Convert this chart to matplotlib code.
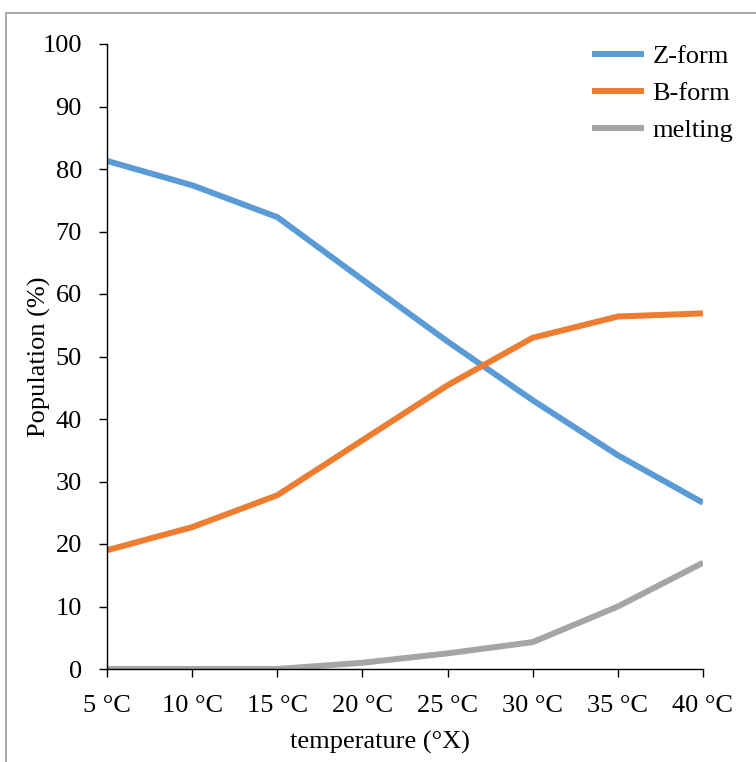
import matplotlib
matplotlib.use("Agg")
import matplotlib.pyplot as plt
from matplotlib.patches import Rectangle

plt.rcParams['font.family'] = ['Liberation Serif', 'DejaVu Serif']

temps = ["5 °C", "10 °C", "15 °C", "20 °C", "25 °C", "30 °C", "35 °C", "40 °C"]
z_form = [81.3, 77.4, 72.3, 62.3, 52.4, 43.0, 34.2, 26.6]
b_form = [19.0, 22.7, 27.8, 36.6, 45.4, 53.0, 56.4, 56.9]
melting = [0.0, 0.0, 0.0, 1.0, 2.5, 4.3, 10.0, 17.0]

W, H = 756, 762
FS = 19
fig = plt.figure(figsize=(W / 100, H / 100), dpi=100)
ax = fig.add_axes([107 / W, 1 - 669 / H, (703 - 107) / W, (669 - 44) / H])

x = list(range(len(temps)))
ax.plot(x, z_form, color="#5B9BD5", lw=4.3, label="Z-form", solid_capstyle="butt")
ax.plot(x, b_form, color="#ED7D31", lw=4.3, label="B-form", solid_capstyle="butt")
ax.plot(x, melting, color="#A5A5A5", lw=4.3, label="melting", solid_capstyle="butt")

ax.set_xlim(0, len(temps) - 1)
ax.set_ylim(0, 100)
ax.set_yticks(range(0, 101, 10))
ax.set_xticks(x)
ax.set_xticklabels(temps)

for s in ["top", "right"]:
    ax.spines[s].set_visible(False)
for s in ["left", "bottom"]:
    ax.spines[s].set_linewidth(1.0)
ax.tick_params(axis="both", direction="out", length=6, width=1, labelsize=FS)
ax.tick_params(axis="x", pad=13)
ax.tick_params(axis="y", pad=12)

ax.set_xlabel("temperature (°X)", fontsize=FS)
ax.set_ylabel("Population (%)", fontsize=FS)
ax.xaxis.set_label_coords((380 - 107) / (703 - 107), -(742 - 669) / (669 - 44),
                          transform=ax.transAxes)
ax.xaxis.label.set_va("center")
ax.yaxis.set_label_coords(-(107 - 39) / (703 - 107), (669 - 357) / (669 - 44),
                          transform=ax.transAxes)
ax.yaxis.label.set_va("center")

leg = ax.legend(loc="upper left", bbox_to_anchor=(581 / W, 1 - 34 / H),
                bbox_transform=fig.transFigure, frameon=False, fontsize=FS,
                handlelength=2.0, handletextpad=0.3, labelspacing=0.52,
                borderaxespad=0)

fig.patches.append(Rectangle((6 / W, -0.1), 1.2, 1 - 13 / H + 0.1,
                             transform=fig.transFigure, fill=False,
                             edgecolor="#9a9a9a", lw=1.2))

fig.savefig("out.png", dpi=100)
